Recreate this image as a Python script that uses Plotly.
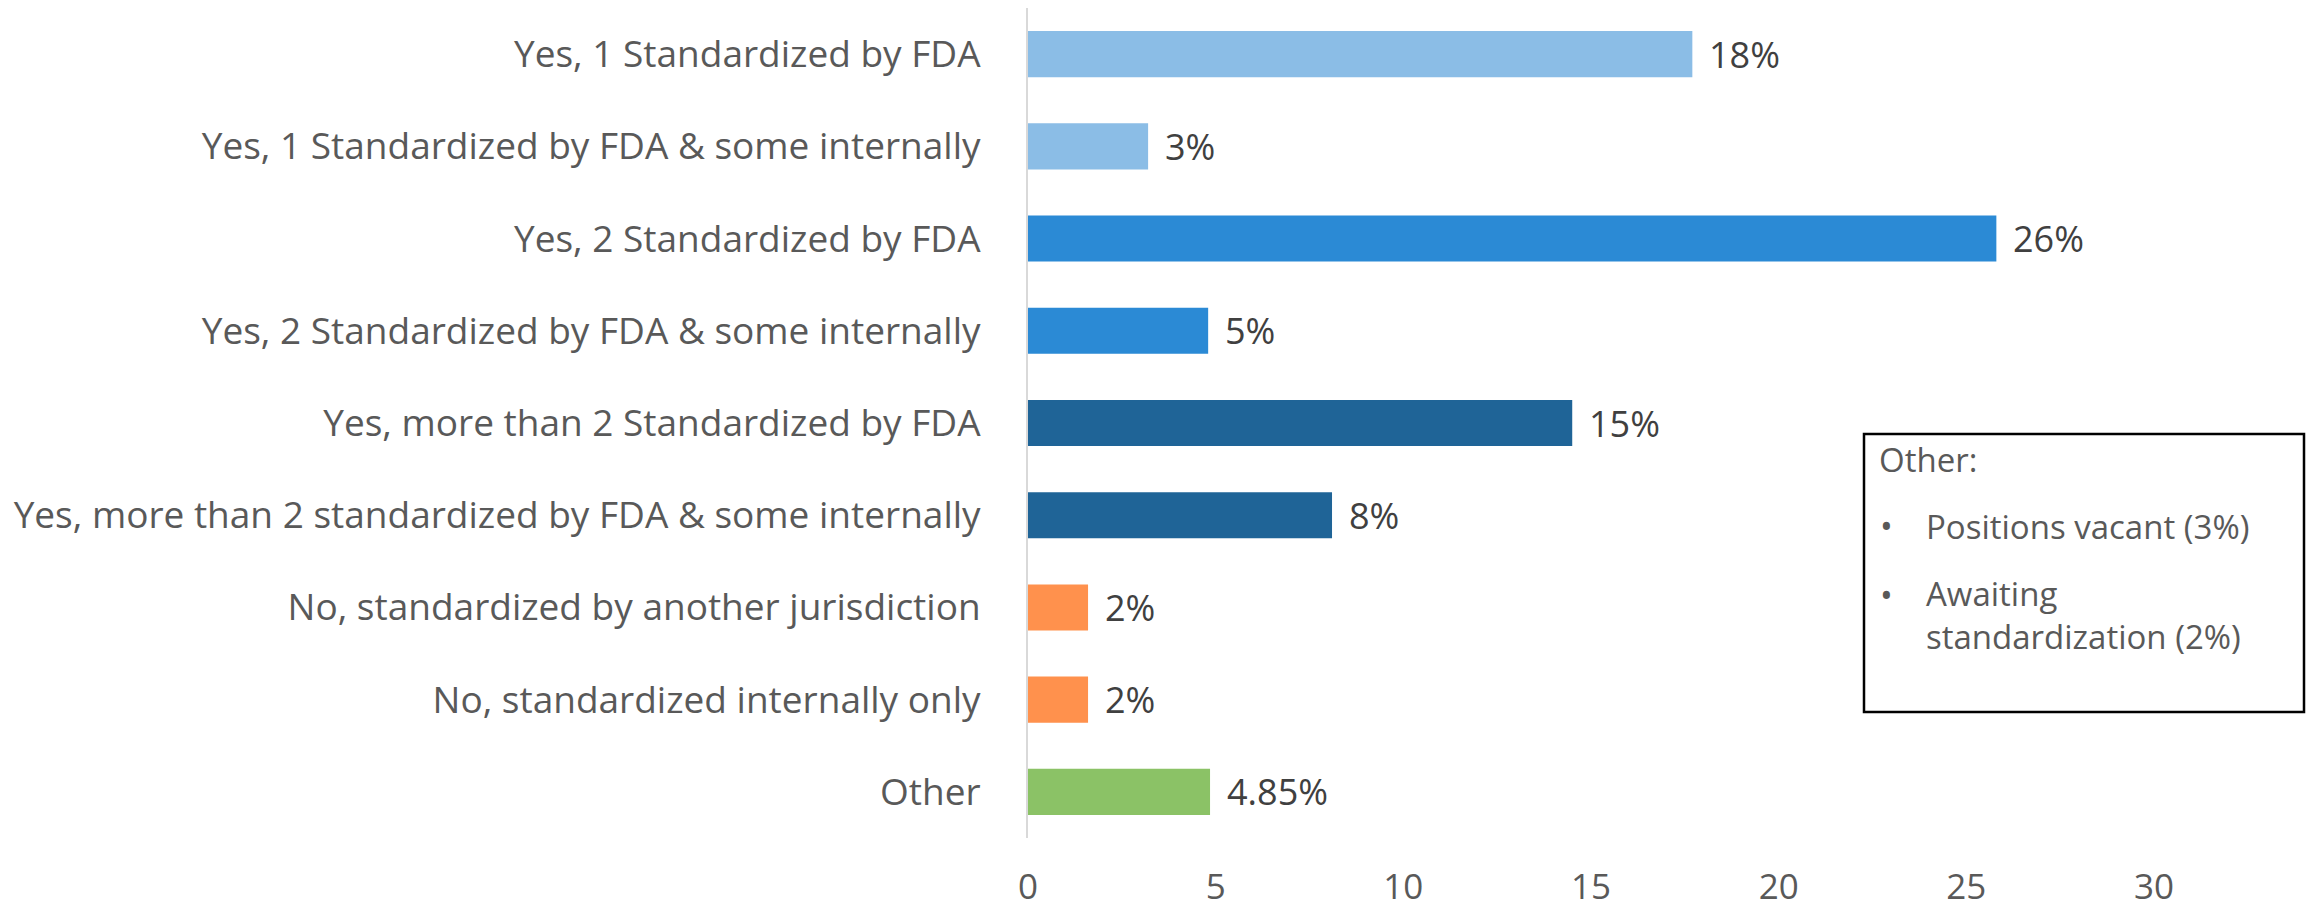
import plotly.graph_objects as go

categories = [
    "Yes, 1 Standardized by FDA",
    "Yes, 1 Standardized by FDA & some internally",
    "Yes, 2 Standardized by FDA",
    "Yes, 2 Standardized by FDA & some internally",
    "Yes, more than 2 Standardized by FDA",
    "Yes, more than 2 standardized by FDA & some internally",
    "No, standardized by another jurisdiction",
    "No, standardized internally only",
    "Other",
]
values = [17.7, 3.2, 25.8, 4.8, 14.5, 8.1, 1.6, 1.6, 4.85]
value_labels = ["18%", "3%", "26%", "5%", "15%", "8%", "2%", "2%", "4.85%"]
bar_colors = ["#8BBDE6", "#8BBDE6", "#2B8AD5", "#2B8AD5", "#1F6497", "#1F6497",
              "#FF914D", "#FF914D", "#8BC266"]
x_ticks = [0, 5, 10, 15, 20, 25, 30]
note_title = "Other:"
note_items = ["Positions vacant (3%)", "Awaiting<br>standardization (2%)"]

OFF = 8  # page body margin
W, H = 2315 - OFF, 912 - OFF
L, R, T, B = 1028 - OFF, 0, 0, 74
FONT = "Open Sans"

def px_x(p):
    return (p - OFF - L) / (W - L - R)

def px_y(p):
    return (H - B - (p - OFF)) / (H - T - B)

fig = go.Figure(go.Bar(
    y=categories, x=values, orientation="h", width=0.5,
    marker=dict(color=bar_colors, line=dict(width=0)),
    hoverinfo="skip",
))

annotations = []
for c, v, lab in zip(categories, values, value_labels):
    annotations.append(dict(x=v, y=c, xref="x", yref="y", text=lab, showarrow=False,
                            xanchor="left", yanchor="middle", xshift=15,
                            font=dict(family=FONT, size=36, color="#404040")))

# text box
annotations.append(dict(x=px_x(1877), y=px_y(459), xref="paper", yref="paper",
                        text=note_title, showarrow=False, xanchor="left", yanchor="middle",
                        font=dict(family=FONT, size=33, color="#595959")))
bullet_y = [526, 595]
text_y = [526, 615]
for txt, by, ty in zip(note_items, bullet_y, text_y):
    annotations.append(dict(x=px_x(1878), y=px_y(by), xref="paper", yref="paper",
                            text="•", showarrow=False, xanchor="left", yanchor="middle",
                            font=dict(family=FONT, size=34, color="#595959")))
    annotations.append(dict(x=px_x(1924), y=px_y(ty), xref="paper", yref="paper",
                            text=txt, showarrow=False, xanchor="left", yanchor="middle",
                            align="left",
                            font=dict(family=FONT, size=33, color="#595959")))

fig.update_layout(
    width=W, height=H,
    margin=dict(l=L, r=R, t=T, b=B, pad=0, autoexpand=False),
    paper_bgcolor="white", plot_bgcolor="white",
    showlegend=False,
    annotations=annotations,
    shapes=[dict(type="rect", xref="paper", yref="paper",
                 x0=px_x(1864), x1=px_x(2304), y0=px_y(712), y1=px_y(434),
                 line=dict(color="black", width=2.5), fillcolor="rgba(0,0,0,0)")],
    xaxis=dict(range=[0, 30 * (W - L - R) / (2154 - OFF - L)], tickvals=x_ticks,
               showgrid=False, zeroline=False, showline=False, automargin=False,
               ticks="", ticklabelstandoff=25,
               tickfont=dict(family=FONT, size=35, color="#595959"), fixedrange=True),
    yaxis=dict(autorange="reversed", showgrid=False, zeroline=False, automargin=False,
               showline=True, linecolor="#D9D9D9", linewidth=2,
               ticks="", ticklabelstandoff=38,
               tickfont=dict(family=FONT, size=37, color="#595959"), fixedrange=True),
)

fig.write_html("out.html")
